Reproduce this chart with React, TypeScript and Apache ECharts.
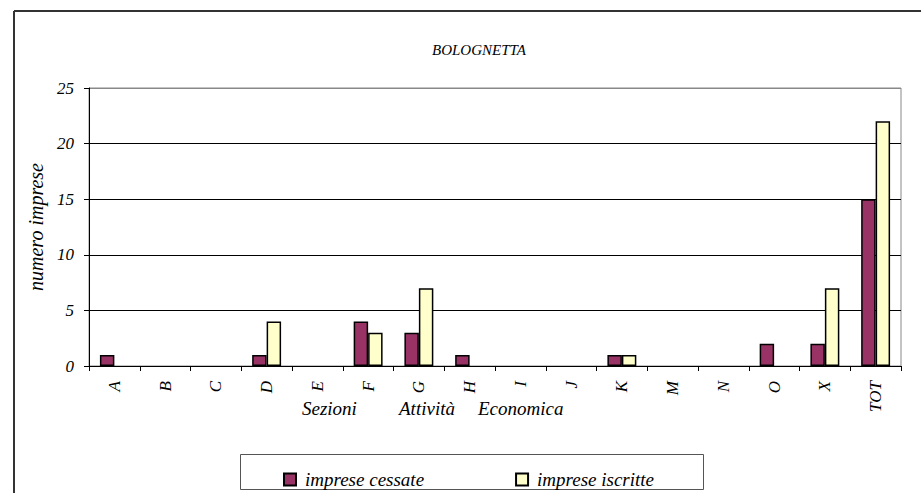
import React, { useEffect, useRef } from "react";
import * as echarts from "echarts";

const categories = ["A", "B", "C", "D", "E", "F", "G", "H", "I", "J", "K", "M", "N", "O", "X", "TOT"];
const cessate = [1, 0, 0, 1, 0, 4, 3, 1, 0, 0, 1, 0, 0, 2, 2, 15];
const iscritte = [0, 0, 0, 4, 0, 3, 7, 0, 0, 0, 1, 0, 0, 0, 7, 22];
const seriesNames = ["imprese cessate", "imprese iscritte"];
const titleText = "BOLOGNETTA";
const yAxisTitle = "numero imprese";
const xAxisTitleWords = ["Sezioni", "Attività", "Economica"];

const FONT = "Liberation Serif";

const hideZero = (arr: number[]) => arr.map((v) => (v === 0 ? null : v));

export default function App() {
  const ref = useRef<HTMLDivElement>(null);
  useEffect(() => {
    if (!ref.current) return;
    const chart = echarts.init(ref.current, null, { renderer: "svg" });
    const xWordPos = [302, 399, 478];
    chart.setOption({
      animation: false,
      backgroundColor: "#fff",
      title: {
        text: titleText,
        left: 427,
        top: 37,
        textStyle: { fontFamily: FONT, fontStyle: "italic", fontWeight: "normal", fontSize: 15, color: "#000" },
      },
      grid: {
        left: 89,
        right: 20,
        top: 88,
        bottom: 127,
        show: true,
        borderColor: "#888",
        borderWidth: 1,
        backgroundColor: "transparent",
      },
      legend: {
        left: 278,
        top: 465,
        itemWidth: 12,
        itemHeight: 12,
        itemGap: 91,
        icon: "rect",
        textStyle: { fontFamily: FONT, fontStyle: "italic", fontSize: 19, color: "#000", padding: [0, 0, 0, 4] },
        data: seriesNames,
      },
      xAxis: {
        type: "category",
        data: categories,
        axisLine: { lineStyle: { color: "#000", width: 1 } },
        axisTick: { show: true, length: 5, lineStyle: { color: "#000" } },
        axisLabel: {
          show: true,
          interval: 0,
          rotate: 90,
          margin: 15,
          fontFamily: FONT,
          fontStyle: "italic",
          fontSize: 17,
          color: "#000",
        },
      },
      yAxis: {
        type: "value",
        min: 0,
        max: 25,
        interval: 5,
        name: yAxisTitle,
        nameLocation: "middle",
        nameGap: 37,
        nameRotate: 90,
        nameTextStyle: { fontFamily: FONT, fontStyle: "italic", fontSize: 20, color: "#000" },
        axisLine: { show: true, lineStyle: { color: "#000", width: 1 } },
        axisTick: { show: true, length: 5, lineStyle: { color: "#000" } },
        axisLabel: { margin: 15, fontFamily: FONT, fontStyle: "italic", fontSize: 17, color: "#000" },
        splitLine: {
          show: true,
          lineStyle: { color: ["#000", "#000", "#000", "#000", "#000", "#888"], width: 1 },
        },
      },
      series: [
        {
          name: seriesNames[0],
          type: "bar",
          data: hideZero(cessate),
          barGap: "0%",
          barCategoryGap: "43%",
          itemStyle: { color: "#993366", borderColor: "#000", borderWidth: 1.5 },
        },
        {
          name: seriesNames[1],
          type: "bar",
          data: hideZero(iscritte),
          barGap: "0%",
          barCategoryGap: "43%",
          itemStyle: { color: "#FFFFCC", borderColor: "#000", borderWidth: 1.5 },
        },
      ],
      graphic: [
        {
          type: "line",
          shape: { x1: 14, y1: 11, x2: 921, y2: 11 },
          style: { stroke: "#333", lineWidth: 2 },
        },
        {
          type: "line",
          shape: { x1: 14, y1: 11, x2: 14, y2: 493 },
          style: { stroke: "#333", lineWidth: 2 },
        },
        {
          type: "rect",
          shape: { x: 240.5, y: 454.5, width: 463, height: 35 },
          style: { fill: "transparent", stroke: "#555", lineWidth: 1 },
          z: 0,
        },
        ...xAxisTitleWords.map((w, i) => ({
          type: "text",
          x: xWordPos[i],
          y: 408,
          style: {
            text: w,
            fontFamily: FONT,
            fontStyle: "italic",
            fontSize: 19,
            fill: "#000",
            verticalAlign: "middle",
          },
        })),
      ],
    });
    return () => chart.dispose();
  }, []);
  return (
    <div
      ref={ref}
      style={{ position: "fixed", left: 0, top: 0, width: 921, height: 493 }}
    />
  );
}
